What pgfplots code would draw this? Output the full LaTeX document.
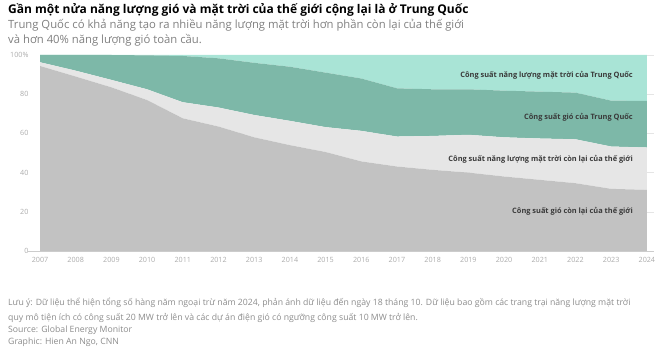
\documentclass[border=0pt]{standalone}
\usepackage{pgfplots}
\usepackage{pgfplotstable}
\pgfplotsset{compat=1.18}
\usepackage{fontspec}
\setmainfont{Open Sans}
\definecolor{cgray}{HTML}{C2C2C2}
\definecolor{clgray}{HTML}{E6E6E6}
\definecolor{cdteal}{HTML}{7DB8A8}
\definecolor{clteal}{HTML}{A9E4D6}
\definecolor{ticktxt}{HTML}{ABABAB}
\definecolor{subtxt}{HTML}{7F7F7F}
\definecolor{notetxt}{HTML}{8C8C8C}
\definecolor{lbltxt}{HTML}{3A3A3A}
\pgfplotstableread{
year rowwind rowsolar cnwind cnsolar
2007 94.4 1.9 3.7 0
2008 89.0 3.0 8.0 0
2009 83.5 3.8 12.7 0
2010 77.0 5.5 17.3 0.2
2011 67.7 8.2 23.6 0.5
2012 63.5 9.7 25.1 1.7
2013 58.0 11.4 26.6 4.0
2014 54.0 12.4 27.6 6.0
2015 50.5 12.7 27.8 9.0
2016 45.7 15.6 26.7 12.0
2017 43.1 15.3 24.6 17.0
2018 41.4 17.3 23.8 17.5
2019 40.0 19.3 23.2 17.5
2020 38.0 20.0 23.8 18.2
2021 36.3 21.1 23.9 18.7
2022 34.6 22.4 23.8 19.2
2023 31.7 21.6 23.4 23.3
2024 31.2 21.6 23.8 23.4
}\datatable
\begin{document}
\begin{tikzpicture}
\path[use as bounding box] (0pt,0pt) rectangle (669pt,351pt);
\node[anchor=west,inner sep=0,font=\fontsize{12}{13}\selectfont\bfseries] at (8pt,341pt) {Gần một nửa năng lượng gió và mặt trời của thế giới cộng lại là ở Trung Quốc};
\node[anchor=west,inner sep=0,text=subtxt,font=\fontsize{11.3}{12}\selectfont] at (8pt,326pt) {Trung Quốc có khả năng tạo ra nhiều năng lượng mặt trời hơn phần còn lại của thế giới};
\node[anchor=west,inner sep=0,text=subtxt,font=\fontsize{11.3}{12}\selectfont] at (8pt,311pt) {và hơn 40\% năng lượng gió toàn cầu.};
\begin{axis}[
  at={(40pt,100pt)}, anchor=south west,
  scale only axis, width=614pt, height=196pt,
  xmin=2007, xmax=2024.2, ymin=0, ymax=100,
  stack plots=y,
  axis on top=false,
  axis y line*=left,
  axis x line*=bottom,
  y axis line style={draw=none},
  x axis line style={draw=black!20, shorten <=-12pt},
  xtick={2007,2008,2009,2010,2011,2012,2013,2014,2015,2016,2017,2018,2019,2020,2021,2022,2023,2024},
  xticklabels={2007,2008,2009,2010,2011,2012,2013,2014,2015,2016,2017,2018,2019,2020,2021,2022,2023,2024},
  xtick style={draw=none},
  ytick style={draw=none},
  ytick={0,20,40,60,80,100},
  yticklabels={0,20,40,60,80,100\%},
  yticklabel style={xshift=-8pt},
  ymajorgrids, grid style={draw=black!10},
  tick label style={text=ticktxt,font=\fontsize{7.2}{8}\selectfont},
  xticklabel style={yshift=-3pt},
  clip=false,
]
\addplot[fill=cgray,draw=none] table[x=year,y=rowwind]{\datatable} \closedcycle;
\addplot[fill=clgray,draw=none] table[x=year,y=rowsolar]{\datatable} \closedcycle;
\addplot[fill=cdteal,draw=none] table[x=year,y=cnwind]{\datatable} \closedcycle;
\addplot[fill=clteal,draw=none] table[x=year,y=cnsolar]{\datatable} \closedcycle;
\end{axis}
\begin{scope}[every node/.style={anchor=east,inner sep=0,text=lbltxt,font=\fontsize{7.4}{8}\selectfont\bfseries}]
\node at (633pt,276pt) {Công suất năng lượng mặt trời của Trung Quốc};
\node at (633pt,234pt) {Công suất gió của Trung Quốc};
\node at (633pt,192pt) {Công suất năng lượng mặt trời còn lại của thế giới};
\node at (633pt,140pt) {Công suất gió còn lại của thế giới};
\end{scope}
\begin{scope}[every node/.style={anchor=west,inner sep=0,text=notetxt,font=\fontsize{8.7}{9}\selectfont}]
\node at (8pt,48pt) {Lưu ý: Dữ liệu thể hiện tổng số hàng năm ngoại trừ năm 2024, phản ánh dữ liệu đến ngày 18 tháng 10. Dữ liệu bao gồm các trang trại năng lượng mặt trời};
\node at (8pt,33pt) {quy mô tiện ích có công suất 20 MW trở lên và các dự án điện gió có ngưỡng công suất 10 MW trở lên.};
\node at (8pt,21pt) {Source: Global Energy Monitor};
\node at (8pt,9pt) {Graphic: Hien An Ngo, CNN};
\end{scope}
\end{tikzpicture}
\end{document}
